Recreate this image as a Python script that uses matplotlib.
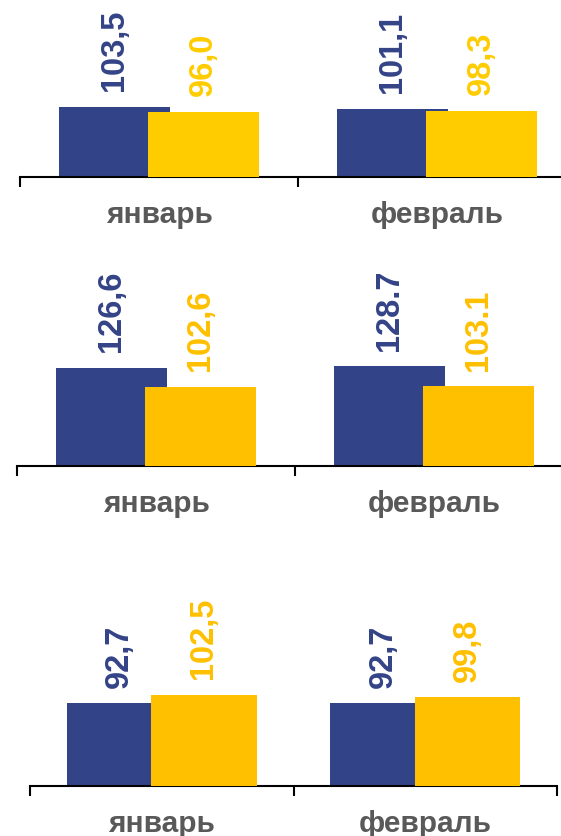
import matplotlib.pyplot as plt

# data, one panel per row
months = ["январь", "февраль"]
blue_vals = [[103.5, 101.1], [126.6, 128.7], [92.7, 92.7]]
yellow_vals = [[96.0, 98.3], [102.6, 103.1], [102.5, 99.8]]
blue_labels = [["103,5", "101,1"], ["126,6", "128.7"], ["92,7", "92,7"]]
yellow_labels = [["96,0", "98,3"], ["102,6", "103.1"], ["102,5", "99,8"]]

BLUE = "#334387"
YELLOWS = ["#FFCC00", "#FFC000", "#FFC000"]
GREY = "#595959"

plt.rcParams['font.family'] = ['Liberation Sans', 'DejaVu Sans']

W, H = 561, 837
fig = plt.figure(figsize=(W / 100, H / 100), dpi=100)

# panel layout in pixels: left tick x, category width, baseline y, px per unit
layout = [(20, 278, 178, 0.676), (17, 278, 467, 0.774), (30, 263.5, 787, 0.89)]
ax_h = 170  # axes height in px
bw = 0.40
off = 0.16

for p, (x0, cw, yb, ppu) in enumerate(layout):
    ax = fig.add_axes([x0 / W, 1 - yb / H, 2 * cw / W, ax_h / H])
    ax.set_xlim(-0.5, 1.5)
    ax.set_ylim(0, ax_h / ppu)
    xs = range(len(months))
    ax.bar([x - off for x in xs], blue_vals[p], width=bw, color=BLUE, zorder=2)
    ax.bar([x + off for x in xs], yellow_vals[p], width=bw, color=YELLOWS[p], zorder=3)

    for i in xs:
        ax.annotate(blue_labels[p][i], (i - off, blue_vals[p][i]), xytext=(0, 12),
                    textcoords="offset points", rotation=90, ha="center", va="bottom",
                    fontsize=23.5, fontweight="bold", color=BLUE, annotation_clip=False)
        ax.annotate(yellow_labels[p][i], (i + off, yellow_vals[p][i]), xytext=(0, 12),
                    textcoords="offset points", rotation=90, ha="center", va="bottom",
                    fontsize=23.5, fontweight="bold", color=YELLOWS[p], annotation_clip=False)
        ax.annotate(months[i], (i, 0), xycoords=("data", "axes fraction"), xytext=(0, -27),
                    textcoords="offset points", ha="center", va="center",
                    fontsize=21.5, fontweight="bold", color=GREY, annotation_clip=False)

    for s in ["top", "right", "left"]:
        ax.spines[s].set_visible(False)
    ax.spines["bottom"].set_linewidth(1.5)
    ax.set_yticks([])
    ax.set_xticks([-0.5, 0.5, 1.5])
    ax.set_xticklabels([])
    ax.tick_params(axis="x", length=7, width=1.5, direction="out")
    ax.patch.set_alpha(0)

fig.savefig("out.png", dpi=100)
